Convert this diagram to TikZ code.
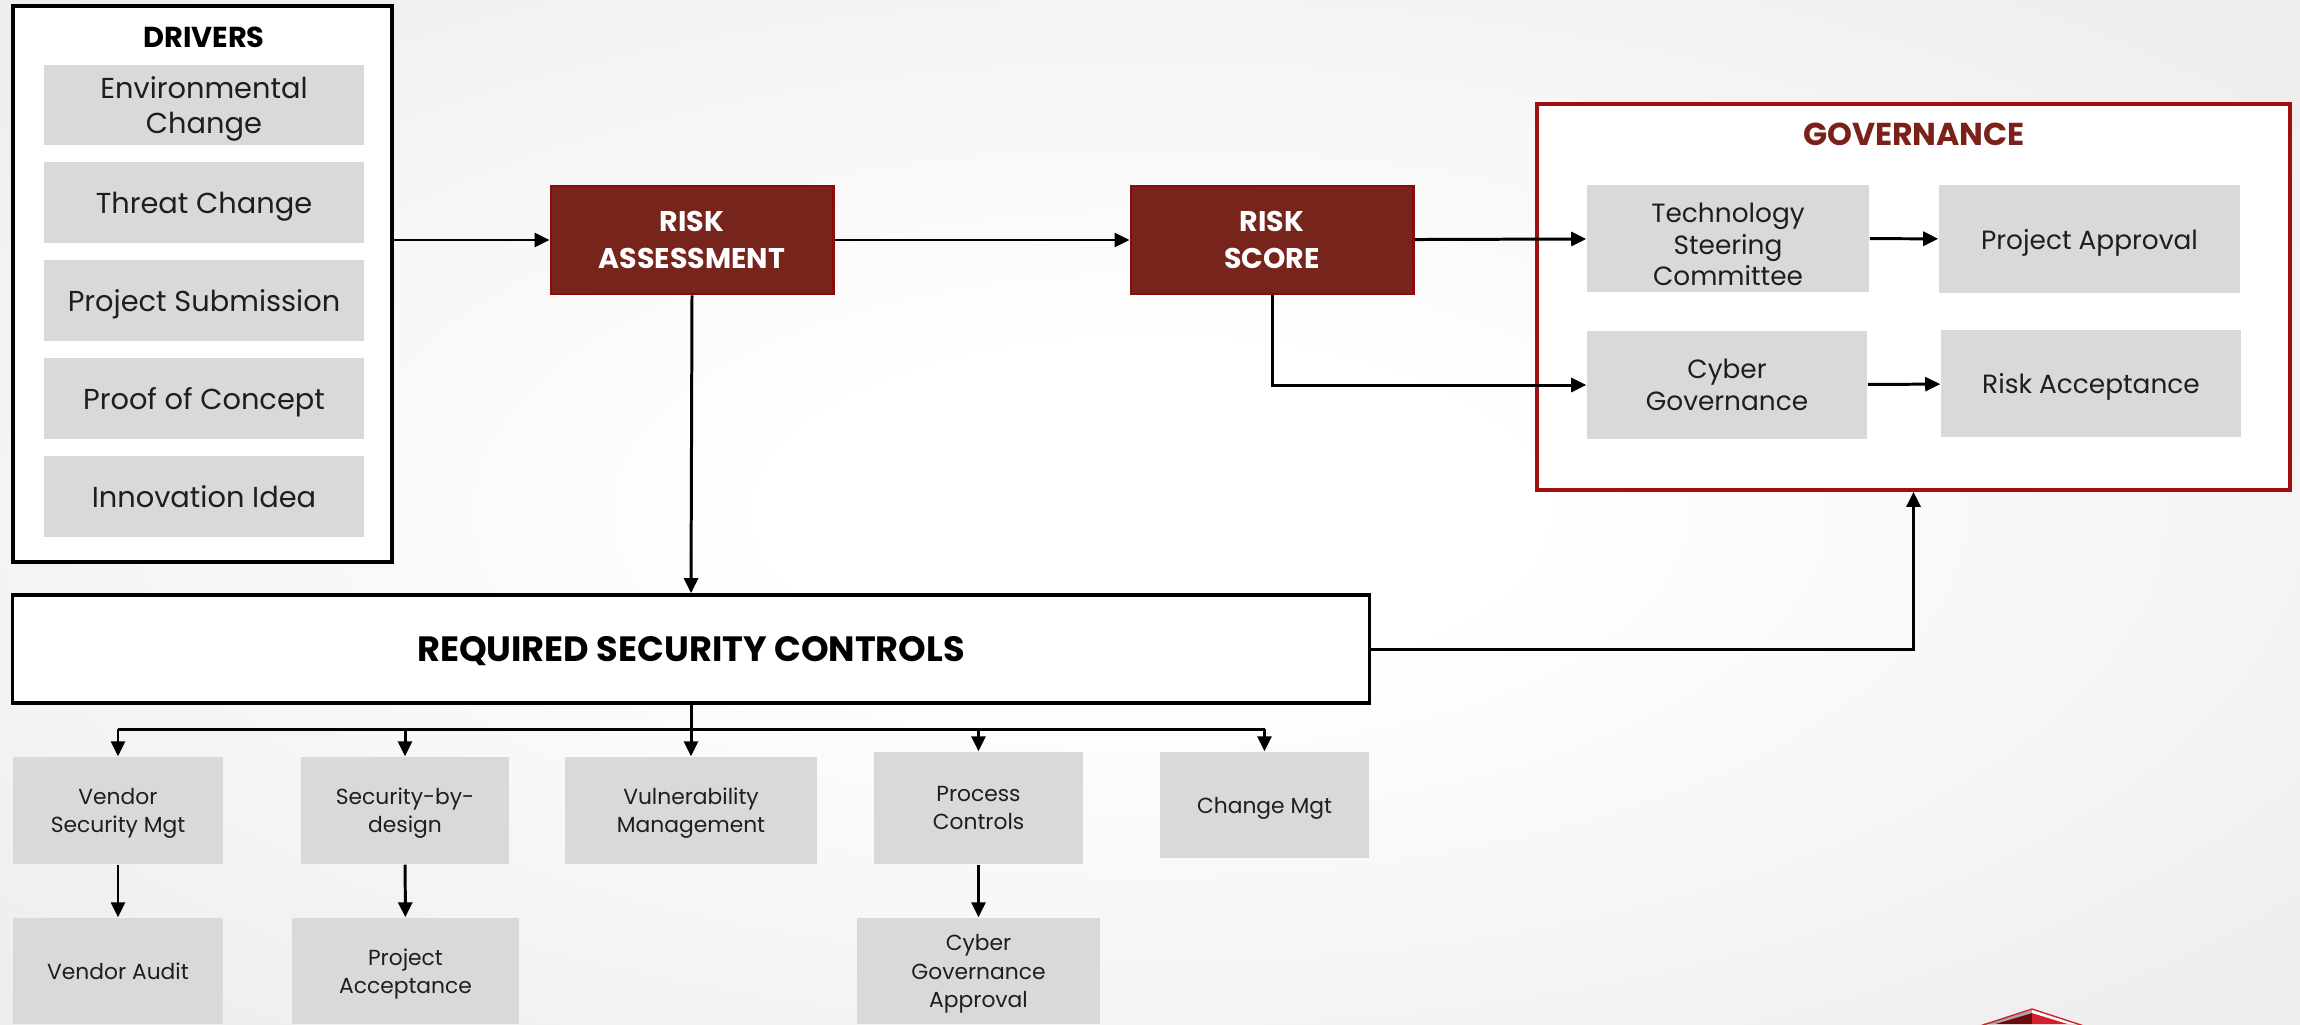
\documentclass[tikz,border=0pt]{standalone}
\usepackage{fontspec}
\setmainfont{Poppins}
\usetikzlibrary{arrows.meta}

\definecolor{riskred}{HTML}{76241C}
\definecolor{riskedge}{HTML}{8B0A0A}
\definecolor{govred}{HTML}{7B2119}
\definecolor{govedge}{HTML}{A01010}
\definecolor{boxgrey}{HTML}{D9D9D9}
\definecolor{ink}{HTML}{1E1E1E}
\definecolor{bgedge}{HTML}{D4D4D4}
\definecolor{logored}{HTML}{D3202A}
\definecolor{logodark}{HTML}{6A0C0C}

\pgfdeclareradialshading{slidebg}{\pgfpoint{0bp}{0bp}}{color(0bp)=(white); color(8bp)=(white); color(72bp)=(bgedge)}

\tikzset{
  greybox/.style={fill=boxgrey, inner sep=0pt, align=center, text=ink, text depth=0pt},
  drvbox/.style={greybox, minimum width=3.2cm, minimum height=0.8cm, font=\fontsize{8.2}{9.7}\selectfont},
  govbox/.style={greybox, minimum height=1.07cm, font=\fontsize{7.5}{9}\selectfont},
  ctlbox/.style={greybox, minimum height=1.07cm, font=\fontsize{6.2}{8}\selectfont},
  riskbox/.style={fill=riskred, draw=riskedge, line width=0.8pt, text=white, align=center,
    minimum width=2.82cm, minimum height=1.08cm, font=\bfseries\fontsize{8.1}{10.5}\selectfont},
  panel/.style={fill=white, inner sep=0pt, line width=1pt},
  heading/.style={font=\bfseries\fontsize{8.2}{10}\selectfont},
  arr/.style={-{Triangle[length=0.15cm,width=0.14cm]}, line width=0.85pt},
}

\begin{document}
\begin{tikzpicture}[x=0.01cm, y=-0.01cm]
  % slide background
  \useasboundingbox (0,0) rectangle (2300,1024);
  \clip (0,0) rectangle (2300,1024);
  \shade[shading=slidebg] (0,0) rectangle (2300,1024);

  % drivers
  \node[panel, draw=black, minimum width=3.79cm, minimum height=5.56cm] (drivers) at (202.5,284) {};
  \node[heading] (drvtitle) at (204,37) {DRIVERS};
  \node[drvbox] (envchg) at (204,105) {Environmental\\Change};
  \node[drvbox] (threat) at (204,202.5) {Threat Change};
  \node[drvbox] (projsub) at (204,300.5) {Project Submission};
  \node[drvbox] (poc) at (204,398.5) {Proof of Concept};
  \node[drvbox] (innov) at (204,496.5) {Innovation Idea};

  % risk
  \node[riskbox] (assess) at (692,240) {RISK\\ASSESSMENT};
  \node[riskbox] (score) at (1272,240) {RISK\\SCORE};

  % governance
  \node[panel, draw=govedge, minimum width=7.53cm, minimum height=3.86cm] (gov) at (1913.5,297) {};
  \node[heading, text=govred, font=\bfseries\fontsize{9}{11}\selectfont] (govtitle) at (1914,134) {GOVERNANCE};
  \node[govbox, minimum width=2.82cm] (steer) at (1728,238.5) {};
  \node[govbox, fill=none] (steertext) at (1728,244.5) {Technology\\Steering\\Committee};
  \node[govbox, minimum width=3.01cm] (approve) at (2089.5,239) {Project Approval};
  \node[govbox, minimum width=2.80cm] (cybgov) at (1727,385) {Cyber\\Governance};
  \node[govbox, minimum width=3.00cm] (riskacc) at (2091,383.5) {Risk Acceptance};

  % required security controls
  \node[panel, draw=black, minimum width=13.56cm, minimum height=1.08cm, text depth=0pt,
    font=\bfseries\fontsize{10}{12}\selectfont] (controls) at (691,649) {REQUIRED SECURITY CONTROLS};
  \node[ctlbox, minimum width=2.10cm] (vendsec) at (118,810.5) {Vendor\\Security Mgt};
  \node[ctlbox, minimum width=2.08cm] (secdes) at (405,810.5) {Security-by-\\design};
  \node[ctlbox, minimum width=2.52cm] (vuln) at (691,810.5) {Vulnerability\\Management};
  \node[ctlbox, minimum width=2.09cm, minimum height=1.12cm] (proc) at (978.5,808) {Process\\Controls};
  \node[ctlbox, minimum width=2.09cm, minimum height=1.06cm] (change) at (1264.5,805) {Change Mgt};
  \node[ctlbox, minimum width=2.10cm, minimum height=1.06cm] (vaudit) at (118,971) {Vendor Audit};
  \node[ctlbox, minimum width=2.27cm, minimum height=1.06cm] (projacc) at (405.5,971) {Project\\Acceptance};
  \node[ctlbox, minimum width=2.43cm, minimum height=1.06cm] (cgapp) at (978.5,971) {Cyber\\Governance\\Approval};
  \coordinate (bus) at (691,729);

  % connectors
  \draw[arr] (assess.west -| drivers.east) -- (assess.west);
  \draw[arr] (assess) -- (score);
  \draw[arr] (score) -- (steer);
  \draw[arr] (score.south) |- (cybgov.west);
  \draw[arr] (steer) -- (approve);
  \draw[arr] (cybgov) -- (riskacc);
  \draw[arr] (assess.south) -- (controls.north);
  \draw[arr] (controls.east) -| (gov.south);
  \draw[arr] (controls.south) -- (vuln.north);
  \draw[line width=0.85pt] (bus -| vendsec.north) -- (bus -| change.north);
  \foreach \c in {vendsec,secdes,proc,change}
    \draw[arr] (bus -| \c.north) -- (\c.north);
  \draw[arr] (vendsec) -- (vaudit);
  \draw[arr] (secdes) -- (projacc);
  \draw[arr] (proc) -- (cgapp);

  % logo corner
  \fill[logodark] (1984,1024) -- (2032,1012) -- (2032,1024) -- cycle;
  \fill[gray!70] (1984,1024) -- (2032,1010) -- (2032,1013) -- (1995,1024) -- cycle;
  \fill[logored] (2032,1012) -- (2080,1024) -- (2032,1024) -- cycle;
  \fill[white] (2032,1010) -- (2080,1024) -- (2068,1024) -- (2032,1013) -- cycle;
  \draw[logored, line width=0.4pt] (1980,1026) -- (2032,1009) -- (2084,1026);
\end{tikzpicture}
\end{document}
